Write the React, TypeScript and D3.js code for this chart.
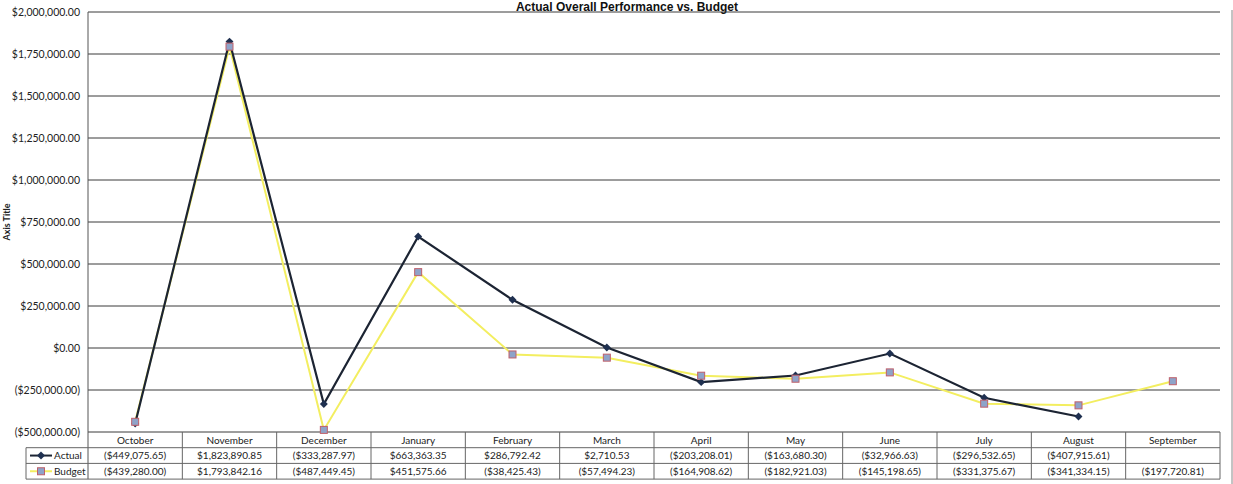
import { useEffect, useRef } from "react";
import * as d3 from "d3";

const months = [
  "October", "November", "December", "January", "February", "March",
  "April", "May", "June", "July", "August", "September",
];
const actual: (number | null)[] = [
  -449075.65, 1823890.85, -333287.97, 663363.35, 286792.42, 2710.53,
  -203208.01, -163680.3, -32966.63, -296532.65, -407915.61, null,
];
const budget: (number | null)[] = [
  -439280.0, 1793842.16, -487449.45, 451575.66, -38425.43, -57494.23,
  -164908.62, -182921.03, -145198.65, -331375.67, -341334.15, -197720.81,
];
const yTicks = [
  -500000, -250000, 0, 250000, 500000, 750000, 1000000, 1250000, 1500000,
  1750000, 2000000,
];

const W = 1233;
const H = 484;
const font = "Lato, 'Open Sans', sans-serif";

const money = (v: number) => {
  const f = d3.format("$,.2f");
  return v < 0 ? `(${f(-v)})` : f(v);
};

const App = () => {
  const ref = useRef<SVGSVGElement>(null);

  useEffect(() => {
    const svg = d3.select(ref.current);
    svg.selectAll("*").remove();

    const left = 88;
    const right = 1220;
    const top = 12;
    const bottom = 432;
    const rowH = 15.7;

    const x = d3.scaleBand<string>().domain(months).range([left, right]);
    const y = d3.scaleLinear().domain([-500000, 2000000]).range([bottom, top]);
    const diamond = (d3 as any).symbolDiamond2 || d3.symbolDiamond;

    svg.append("rect").attr("width", W).attr("height", H).attr("fill", "#fff");

    // titulo
    svg
      .append("text")
      .attr("x", 627)
      .attr("y", 11)
      .attr("text-anchor", "middle")
      .attr("font-family", "Arial, 'Liberation Sans', sans-serif")
      .attr("font-weight", "bold")
      .attr("font-size", 12)
      .attr("fill", "#111")
      .text("Actual Overall Performance vs. Budget");

    // borda direita
    svg
      .append("line")
      .attr("x1", 1232).attr("x2", 1232).attr("y1", 10).attr("y2", H)
      .attr("stroke", "#888");

    // grid
    svg
      .append("g")
      .selectAll("line")
      .data(yTicks)
      .enter()
      .append("line")
      .attr("x1", left)
      .attr("x2", right)
      .attr("y1", (d) => y(d))
      .attr("y2", (d) => y(d))
      .attr("stroke", "#3a3a3a")
      .attr("stroke-width", 1);

    // eixo y
    svg
      .append("line")
      .attr("x1", left).attr("x2", left)
      .attr("y1", top).attr("y2", bottom + rowH * 3)
      .attr("stroke", "#555");

    svg
      .append("g")
      .selectAll("text")
      .data(yTicks)
      .enter()
      .append("text")
      .attr("x", 80)
      .attr("y", (d) => y(d) + 3.5)
      .attr("text-anchor", "end")
      .attr("font-family", font)
      .attr("font-size", 10.5)
      .attr("fill", "#222")
      .text((d) => money(d));

    svg
      .append("text")
      .attr("transform", `translate(10,${y(750000)}) rotate(-90)`)
      .attr("text-anchor", "middle")
      .attr("font-family", font)
      .attr("font-weight", "bold")
      .attr("font-size", 9)
      .attr("fill", "#222")
      .text("Axis Title");

    // tabela
    const tbl = svg.append("g").attr("stroke", "#666").attr("stroke-width", 1);
    [1, 2, 3].forEach((i) => {
      tbl
        .append("line")
        .attr("x1", 26)
        .attr("x2", right)
        .attr("y1", bottom + rowH * i)
        .attr("y2", bottom + rowH * i);
    });
    months.forEach((m) => {
      tbl
        .append("line")
        .attr("x1", x(m)! + x.bandwidth())
        .attr("x2", x(m)! + x.bandwidth())
        .attr("y1", bottom)
        .attr("y2", bottom + rowH * 3);
    });
    tbl
      .append("line")
      .attr("x1", 26).attr("x2", 26)
      .attr("y1", bottom + rowH).attr("y2", bottom + rowH * 3);

    const cellText = (row: number, vals: (string | null)[]) => {
      svg
        .append("g")
        .selectAll("text")
        .data(vals.map((v, i) => ({ v, m: months[i] })).filter((d) => d.v !== null))
        .enter()
        .append("text")
        .attr("x", (d) => x(d.m)! + x.bandwidth() / 2)
        .attr("y", bottom + rowH * row + 11.5)
        .attr("text-anchor", "middle")
        .attr("font-family", font)
        .attr("font-size", 10)
        .attr("fill", "#222")
        .text((d) => d.v!);
    };
    cellText(0, months);
    cellText(1, actual.map((v) => (v === null ? null : money(v))));
    cellText(2, budget.map((v) => (v === null ? null : money(v))));

    // legenda da tabela
    const lg = svg.append("g");
    lg.append("line")
      .attr("x1", 30).attr("x2", 52)
      .attr("y1", bottom + rowH * 1.5).attr("y2", bottom + rowH * 1.5)
      .attr("stroke", "#1c2433").attr("stroke-width", 2);
    lg.append("path")
      .attr("d", d3.symbol(diamond, 40)())
      .attr("transform", `translate(41,${bottom + rowH * 1.5})`)
      .attr("fill", "#1f3050");
    lg.append("text")
      .attr("x", 54).attr("y", bottom + rowH * 1.5 + 3.5)
      .attr("font-family", font).attr("font-size", 10).attr("fill", "#222")
      .text("Actual");
    lg.append("line")
      .attr("x1", 30).attr("x2", 52)
      .attr("y1", bottom + rowH * 2.5).attr("y2", bottom + rowH * 2.5)
      .attr("stroke", "#f3ee60").attr("stroke-width", 2);
    lg.append("rect")
      .attr("x", 37.5).attr("y", bottom + rowH * 2.5 - 3.5)
      .attr("width", 7).attr("height", 7)
      .attr("fill", "#8ea3c9").attr("stroke", "#c0606a").attr("stroke-width", 1);
    lg.append("text")
      .attr("x", 54).attr("y", bottom + rowH * 2.5 + 3.5)
      .attr("font-family", font).attr("font-size", 10).attr("fill", "#222")
      .text("Budget");

    const cx = (i: number) => x(months[i])! + x.bandwidth() / 2;
    const line = d3
      .line<number | null>()
      .defined((d) => d !== null)
      .x((_, i) => cx(i))
      .y((d) => y(d as number));

    // budget
    svg
      .append("path")
      .datum(budget)
      .attr("fill", "none")
      .attr("stroke", "#f3ee60")
      .attr("stroke-width", 2)
      .attr("d", line);

    // actual
    svg
      .append("path")
      .datum(actual)
      .attr("fill", "none")
      .attr("stroke", "#1c2433")
      .attr("stroke-width", 2.2)
      .attr("d", line);

    svg
      .append("g")
      .selectAll("path")
      .data(actual.map((v, i) => ({ v, i })).filter((d) => d.v !== null))
      .enter()
      .append("path")
      .attr("d", d3.symbol(diamond, 40)())
      .attr("transform", (d) => `translate(${cx(d.i)},${y(d.v!)})`)
      .attr("fill", "#1f3050");

    svg
      .append("g")
      .selectAll("rect")
      .data(budget.map((v, i) => ({ v, i })).filter((d) => d.v !== null))
      .enter()
      .append("rect")
      .attr("x", (d) => cx(d.i) - 3.5)
      .attr("y", (d) => y(d.v!) - 3.5)
      .attr("width", 7)
      .attr("height", 7)
      .attr("fill", "#8ea3c9")
      .attr("stroke", "#c0606a")
      .attr("stroke-width", 1);
  }, []);

  return (
    <svg
      ref={ref}
      width={W}
      height={H}
      style={{ position: "absolute", left: 0, top: 0 }}
    />
  );
};

export default App;
